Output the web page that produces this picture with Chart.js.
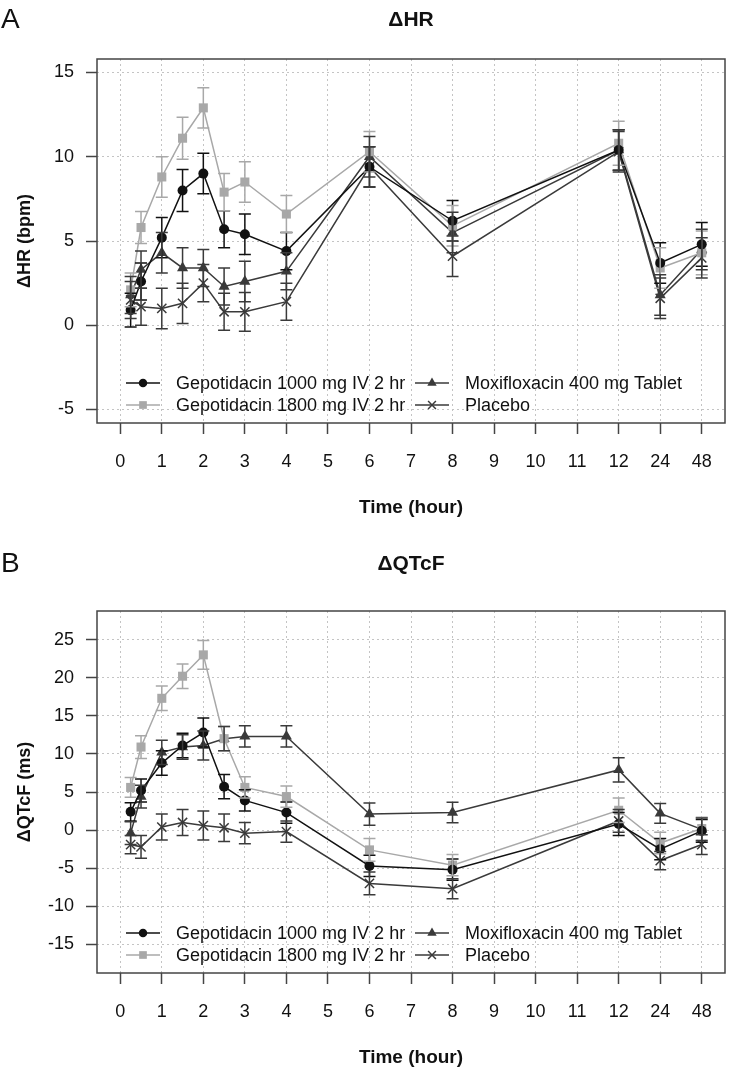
<!DOCTYPE html>
<html>
<head>
<meta charset="utf-8">
<script src="https://cdn.jsdelivr.net/npm/chart.js@4.4.1/dist/chart.umd.min.js"></script>
<style>
  html, body { margin: 0; padding: 0; background: #fff; }
  #wrap { position: relative; width: 733px; height: 1069px; }
  canvas { position: absolute; left: 0; }
</style>
</head>
<body>
<div id="wrap">
  <canvas id="hr" width="733" height="534" style="top:0"></canvas>
  <canvas id="qtcf" width="733" height="535" style="top:534px"></canvas>
</div>
<script>
// sampling times (hours); 24 h and 48 h sit on the broken part of the axis
const times = [0.25, 0.5, 1, 1.5, 2, 2.5, 3, 4, 6, 8, 12, 24, 48];
const timeTickLabels = ['0', '1', '2', '3', '4', '5', '6', '7', '8', '9', '10', '11', '12', '24', '48'];
const seriesNames = ['Gepotidacin 1000 mg IV 2 hr', 'Gepotidacin 1800 mg IV 2 hr',
                     'Moxifloxacin 400 mg Tablet', 'Placebo'];

// ΔHR (bpm), mean and half-width of the error bar
const hrGepo1000 = [0.9, 2.6, 5.2, 8.0, 9.0, 5.7, 5.4, 4.4, 9.4, 6.2, 10.4, 3.7, 4.8];
const hrGepo1800 = [2.1, 5.8, 8.8, 11.1, 12.9, 7.9, 8.5, 6.6, 10.3, 5.9, 10.8, 3.4, 4.3];
const hrMoxi = [1.8, 3.3, 4.3, 3.4, 3.4, 2.3, 2.6, 3.2, 10.0, 5.5, 10.4, 1.8, 4.5];
const hrPlacebo = [1.5, 1.1, 1.0, 1.3, 2.5, 0.8, 0.8, 1.4, 9.4, 4.1, 10.3, 1.6, 4.0];
const hrGepo1000Err = [1.0, 1.1, 1.2, 1.25, 1.2, 1.1, 1.2, 1.1, 1.2, 1.2, 1.2, 1.2, 1.3];
const hrGepo1800Err = [1.0, 0.95, 1.2, 1.25, 1.2, 1.1, 1.2, 1.1, 1.2, 1.2, 1.3, 1.2, 1.3];
const hrMoxiErr = [1.1, 1.1, 1.2, 1.2, 1.1, 1.1, 1.2, 1.1, 1.2, 1.2, 1.2, 1.2, 1.2];
const hrPlaceboErr = [1.1, 1.1, 1.2, 1.2, 1.1, 1.1, 1.15, 1.1, 1.2, 1.2, 1.2, 1.2, 1.2];
const hrTicks = [-5, 0, 5, 10, 15];

// ΔQTcF (ms)
const qtGepo1000 = [2.4, 5.2, 8.8, 11.1, 12.8, 5.7, 3.9, 2.3, -4.7, -5.2, 0.8, -2.5, -0.1];
const qtGepo1800 = [5.6, 10.9, 17.3, 20.2, 23.0, 12.0, 5.6, 4.4, -2.6, -4.6, 2.6, -1.7, 0.2];
const qtMoxi = [-0.4, 4.4, 10.2, 10.9, 11.1, 12.0, 12.3, 12.3, 2.1, 2.3, 7.9, 2.2, 0.1];
const qtPlacebo = [-1.9, -2.2, 0.4, 1.0, 0.6, 0.3, -0.4, -0.2, -7.0, -7.7, 1.2, -4.0, -1.9];
const qtGepo1000Err = [1.2, 1.5, 1.6, 1.6, 1.9, 1.6, 1.4, 1.4, 1.4, 1.4, 1.5, 1.4, 1.5];
const qtGepo1800Err = [1.3, 1.5, 1.6, 1.6, 1.9, 1.6, 1.4, 1.4, 1.5, 1.4, 1.6, 1.4, 1.5];
const qtMoxiErr = [1.5, 1.5, 1.6, 1.6, 1.9, 1.6, 1.4, 1.4, 1.45, 1.35, 1.6, 1.3, 1.5];
const qtPlaceboErr = [1.2, 1.5, 1.7, 1.7, 1.9, 1.8, 1.4, 1.4, 1.5, 1.3, 1.5, 1.2, 1.3];
const qtcfTicks = [-15, -10, -5, 0, 5, 10, 15, 20, 25];

const FONT = '"Liberation Sans", Arial, sans-serif';
const seriesStyle = [
    {color: '#111111', point: 'circle', radius: 5},
    {color: '#a8a8a8', point: 'rect', radius: 6.4},
    {color: '#3a3a3a', point: 'triangle', radius: 6.4},
    {color: '#3a3a3a', point: 'crossRot', radius: 6.5}
];

function axisPos(t) {
    return t > 12 ? timeTickLabels.indexOf(String(t)) : t;
}

const errorBars = {
    id: 'errorBars',
    afterDatasetsDraw(chart) {
        let ctx = chart.ctx;
        let xs = chart.scales.x, ys = chart.scales.y;
        ctx.save();
        ctx.lineWidth = 1.5;
        chart.data.datasets.forEach((ds) => {
            ctx.strokeStyle = ds.borderColor;
            ds.data.forEach((p, j) => {
                let x = xs.getPixelForValue(p.x);
                let lo = ys.getPixelForValue(p.y - ds.errors[j]);
                let hi = ys.getPixelForValue(p.y + ds.errors[j]);
                ctx.beginPath();
                ctx.moveTo(x, lo); ctx.lineTo(x, hi);
                ctx.moveTo(x - 6, lo); ctx.lineTo(x + 6, lo);
                ctx.moveTo(x - 6, hi); ctx.lineTo(x + 6, hi);
                ctx.stroke();
            });
        });
        ctx.restore();
    }
};

const panelDecor = {
    id: 'panelDecor',
    afterDraw(chart, args, opts) {
        let ctx = chart.ctx;
        let a = chart.chartArea;
        ctx.save();
        ctx.strokeStyle = '#444';
        ctx.lineWidth = 1.5;
        ctx.strokeRect(a.left, a.top, a.right - a.left, a.bottom - a.top);

        ctx.fillStyle = '#111';
        ctx.textBaseline = 'middle';
        ctx.textAlign = 'left';
        ctx.font = '28px ' + FONT;
        ctx.fillText(opts.letter, 1, opts.titleY);
        ctx.textAlign = 'center';
        ctx.font = 'bold 21px ' + FONT;
        ctx.fillText(opts.title, (a.left + a.right) / 2, opts.titleY);

        // legend, two columns inside the plot
        let colX = [126, 415];
        let rowY = [a.bottom - 40, a.bottom - 18];
        ctx.font = '18px ' + FONT;
        ctx.textAlign = 'left';
        seriesNames.forEach((name, i) => {
            let st = seriesStyle[i];
            let x0 = colX[Math.floor(i / 2)];
            let y = rowY[i % 2];
            ctx.strokeStyle = st.color;
            ctx.fillStyle = st.color;
            ctx.lineWidth = 1.5;
            ctx.beginPath();
            ctx.moveTo(x0, y); ctx.lineTo(x0 + 34, y);
            ctx.stroke();
            Chart.helpers.drawPoint(ctx, {
                pointStyle: st.point, radius: st.radius * 0.85, rotation: 0,
                borderWidth: st.point === 'crossRot' ? 1.5 : 0
            }, x0 + 17, y);
            ctx.fillStyle = '#111';
            ctx.fillText(name, x0 + 50, y + 1);
        });
        ctx.restore();
    }
};

function buildChart(canvasId, cfg) {
    let datasets = cfg.values.map((vals, i) => ({
        label: seriesNames[i],
        data: vals.map((v, j) => ({x: axisPos(times[j]), y: v})),
        errors: cfg.errors[i],
        borderColor: seriesStyle[i].color,
        backgroundColor: seriesStyle[i].color,
        borderWidth: 1.5,
        pointStyle: seriesStyle[i].point,
        pointRadius: seriesStyle[i].radius,
        pointBorderWidth: seriesStyle[i].point === 'crossRot' ? 1.5 : 0,
        tension: 0,
        fill: false,
        order: i
    }));
    return new Chart(document.getElementById(canvasId), {
        type: 'line',
        data: {datasets: datasets},
        plugins: [errorBars, panelDecor],
        options: {
            responsive: false,
            animation: false,
            devicePixelRatio: 1,
            layout: {padding: {top: cfg.boxTop, right: 3, left: 0, bottom: cfg.canvasH - cfg.boxBottom - 96}},
            plugins: {
                legend: {display: false},
                tooltip: {enabled: false},
                panelDecor: {letter: cfg.letter, title: cfg.title, titleY: cfg.titleY}
            },
            scales: {
                x: {
                    type: 'linear',
                    min: -0.56,
                    max: 14.56,
                    afterBuildTicks: (s) => { s.ticks = timeTickLabels.map((_, i) => ({value: i})); },
                    afterFit: (s) => { s.height = 96; },
                    ticks: {
                        callback: (v) => timeTickLabels[v],
                        color: '#111', font: {family: FONT, size: 18},
                        padding: 17, maxRotation: 0, autoSkip: false
                    },
                    grid: {color: '#c4c4c4', lineWidth: 1, tickLength: 11, tickColor: '#444', tickWidth: 1.5, tickBorderDash: []},
                    border: {display: false, dash: [2, 3]},
                    title: {display: true, text: 'Time (hour)', color: '#111',
                            font: {family: FONT, size: 19, weight: 'bold'}, padding: {top: 0, bottom: 0}}
                },
                y: {
                    min: cfg.yMin,
                    max: cfg.yMax,
                    afterBuildTicks: (s) => { s.ticks = cfg.yTicks.map((v) => ({value: v})); },
                    afterFit: (s) => { s.width = 97; },
                    ticks: {color: '#111', font: {family: FONT, size: 18}, padding: 12},
                    grid: {color: '#c4c4c4', lineWidth: 1, tickLength: 11, tickColor: '#444', tickWidth: 1.5, tickBorderDash: []},
                    border: {display: false, dash: [2, 3]},
                    title: {display: true, text: cfg.yTitle, color: '#111',
                            font: {family: FONT, size: 18, weight: 'bold'}, padding: {top: 14, bottom: 0}}
                }
            }
        }
    });
}

buildChart('hr', {
    letter: 'A', title: 'ΔHR', titleY: 20, yTitle: 'ΔHR (bpm)',
    boxTop: 59, boxBottom: 423, canvasH: 534,
    yMin: -5.8, yMax: 15.8, yTicks: hrTicks,
    values: [hrGepo1000, hrGepo1800, hrMoxi, hrPlacebo],
    errors: [hrGepo1000Err, hrGepo1800Err, hrMoxiErr, hrPlaceboErr]
});

buildChart('qtcf', {
    letter: 'B', title: 'ΔQTcF', titleY: 30, yTitle: 'ΔQTcF (ms)',
    boxTop: 77, boxBottom: 439, canvasH: 535,
    yMin: -18.76, yMax: 28.76, yTicks: qtcfTicks,
    values: [qtGepo1000, qtGepo1800, qtMoxi, qtPlacebo],
    errors: [qtGepo1000Err, qtGepo1800Err, qtMoxiErr, qtPlaceboErr]
});
</script>
</body>
</html>
